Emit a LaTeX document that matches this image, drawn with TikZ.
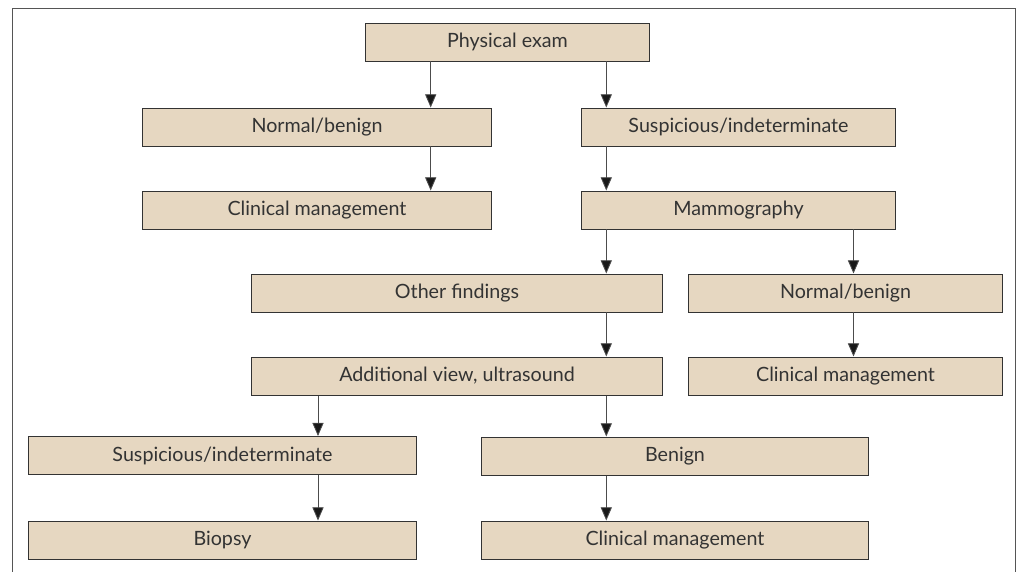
\documentclass[tikz,border=0pt]{standalone}
\usepackage{fontspec}
\setmainfont{Lato}
\usepackage{xcolor}
\usetikzlibrary{arrows.meta}

\definecolor{boxfill}{HTML}{E6D7C1}
\definecolor{boxline}{HTML}{333333}
\definecolor{frameline}{HTML}{555555}

\tikzset{
  flowbox/.style={draw=boxline, line width=0.7pt, fill=boxfill,
    minimum height=0.95cm, inner sep=0pt, text=black!80,
    font=\fontsize{14}{16}\selectfont},
  arr/.style={draw=black!70, line width=0.6pt,
    -{Triangle[length=0.33cm, width=0.28cm, fill=black!90]}}
}

\begin{document}
\begin{tikzpicture}[x=0.025cm, y=-0.025cm]
\useasboundingbox (0,0) rectangle (1021,572);

% outer frame (open at the bottom)
\draw[frameline, line width=0.7pt] (12.5,580) -- (12.5,8.5) -- (1015,8.5) -- (1015,580);

% Row 1
\node[flowbox, minimum width=7.075cm] (pe) at (507.5,42) {Physical exam};

% Row 2
\node[flowbox, minimum width=8.7cm] (nbA) at (317,127) {Normal/benign};
\node[flowbox, minimum width=7.825cm] (suA) at (738.5,127) {Suspicious/indeterminate};

% Row 3
\node[flowbox, minimum width=8.7cm] (cmA) at (317,210) {Clinical management};
\node[flowbox, minimum width=7.825cm] (mam) at (738.5,210) {Mammography};

% Row 4
\node[flowbox, minimum width=10.25cm] (oth) at (457,293) {Other findings};
\node[flowbox, minimum width=7.825cm] (nbB) at (845.5,293) {Normal/benign};

% Row 5
\node[flowbox, minimum width=10.25cm] (add) at (457,376) {Additional view, ultrasound};
\node[flowbox, minimum width=7.825cm] (cmB) at (845.5,376) {Clinical management};

% Row 6
\node[flowbox, minimum width=9.675cm] (suB) at (222.5,455.5) {Suspicious/indeterminate};
\node[flowbox, minimum width=9.65cm] (ben) at (675,456) {Benign};

% Row 7
\node[flowbox, minimum width=9.675cm] (bio) at (222.5,540) {Biopsy};
\node[flowbox, minimum width=9.65cm] (cmC) at (675,540) {Clinical management};

% arrow columns
\coordinate (xa) at (430.7,0);
\coordinate (xb) at (606.3,0);
\coordinate (xc) at (853.5,0);
\coordinate (xd) at (318,0);

% connectors
\draw[arr] (pe.south -| xa) -- (nbA.north -| xa);
\draw[arr] (pe.south -| xb) -- (suA.north -| xb);
\draw[arr] (nbA.south -| xa) -- (cmA.north -| xa);
\draw[arr] (suA.south -| xb) -- (mam.north -| xb);
\draw[arr] (mam.south -| xb) -- (oth.north -| xb);
\draw[arr] (mam.south -| xc) -- (nbB.north -| xc);
\draw[arr] (nbB.south -| xc) -- (cmB.north -| xc);
\draw[arr] (oth.south -| xb) -- (add.north -| xb);
\draw[arr] (add.south -| xd) -- (suB.north -| xd);
\draw[arr] (add.south -| xb) -- (ben.north -| xb);
\draw[arr] (suB.south -| xd) -- (bio.north -| xd);
\draw[arr] (ben.south -| xb) -- (cmC.north -| xb);
\end{tikzpicture}
\end{document}
